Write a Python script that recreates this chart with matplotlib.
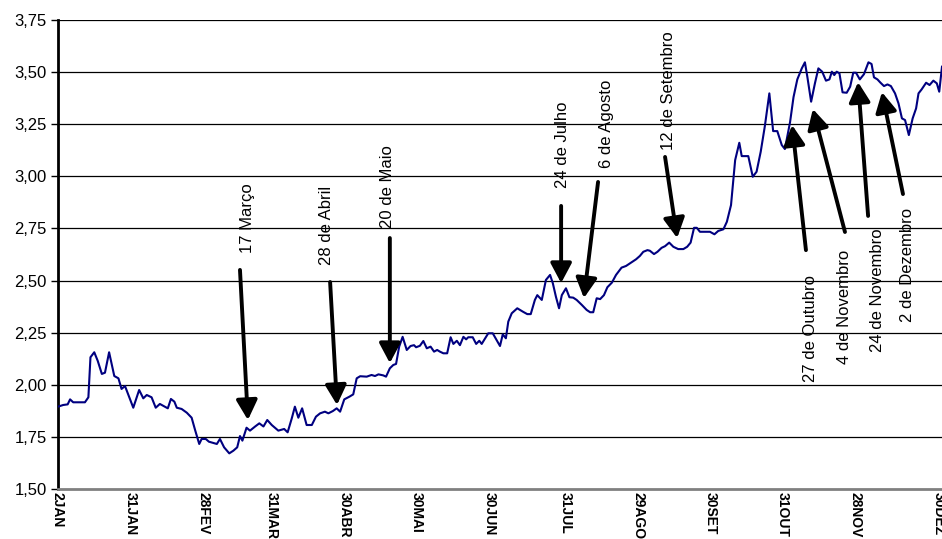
import matplotlib
matplotlib.use("Agg")
import matplotlib.pyplot as plt

plt.rcParams['font.family'] = ['Liberation Sans', 'DejaVu Sans']

# trading day index (0 = 2 JAN) and price
days = [0, 1.5, 2.8, 3.5, 4.4, 7.8, 8.8, 9.4, 10.5, 11.5, 12.7, 13.6, 14.8, 16.3, 17.5, 18.4, 19.4,
        21.8, 23.5, 24.7, 25.7, 27.1, 28.3, 29.5, 31.8, 32.7, 33.7, 34.4, 35.8, 37.3, 38.7, 39.7,
        40.9, 41.6, 42.8, 43.7, 46.0, 46.9, 48.1, 49.6, 50.8, 51.9, 52.7, 53.4, 54.6, 55.6, 57.1,
        58.3, 59.5, 60.6, 61.9, 63.8, 65.5, 66.5, 67.7, 68.6, 69.6, 70.7, 72.0, 73.5, 74.7, 75.9,
        77.3, 78.3, 79.6, 80.7, 81.7, 82.9, 84.4, 85.5, 86.5, 87.5, 89.4, 90.8, 91.8, 92.8, 94.2,
        95.0, 96.1, 97.1, 97.9, 98.8, 99.8, 101.0, 102.1, 103.1, 103.7, 104.8, 105.8, 106.8, 107.9,
        108.9, 109.8, 110.6, 111.6, 112.7, 113.7, 114.5, 115.5, 116.4, 117.4, 118.2, 118.8, 120.1,
        121.1, 122.0, 122.7, 123.7, 124.6, 125.9, 127.0, 128.0, 128.8, 129.7, 130.4, 131.4, 133.0,
        134.7, 135.9, 136.9, 138.1, 138.8, 140.1, 141.3, 142.5, 143.3, 144.2, 145.1, 145.9, 147.1,
        148.1, 149.2, 150.2, 151.7, 153.1, 154.1, 155.0, 156.0, 157.0, 158.1, 159.1, 160.4, 161.6,
        163.2, 164.5, 165.7, 167.4, 168.5, 169.5, 170.7, 171.4, 172.6, 173.6, 174.8, 175.8, 177.0,
        178.2, 179.6, 181.1, 182.2, 183.2, 184.2, 185.0, 185.9, 188.8, 190.1, 191.2, 192.7, 193.7,
        194.9, 196.1, 197.3, 198.0, 199.9, 201.2, 202.3, 203.5, 204.7, 206.0, 207.1, 208.3, 209.6,
        210.5, 212.0, 213.0, 214.1, 215.4, 216.3, 217.0, 218.1, 219.2, 220.2, 221.3, 222.4, 223.4,
        224.1, 224.8, 225.5, 226.3, 227.2, 228.4, 229.4, 230.3, 231.1, 232.2, 233.4, 234.7, 235.6,
        236.3, 237.3, 238.2, 239.2, 240.2, 241.2, 242.4, 243.4, 244.4, 245.3, 246.4, 247.5, 248.5,
        249.2, 250.1, 251.4, 252.4, 253.5, 254.5, 255.2, 256.0]
price = [1.895, 1.903, 1.906, 1.930, 1.916, 1.916, 1.94, 2.132, 2.156, 2.115, 2.052, 2.058, 2.156,
         2.042, 2.031, 1.98, 1.994, 1.89, 1.975, 1.935, 1.951, 1.94, 1.89, 1.908, 1.887, 1.932,
         1.919, 1.89, 1.884, 1.866, 1.842, 1.783, 1.716, 1.74, 1.74, 1.727, 1.716, 1.74, 1.70,
         1.671, 1.684, 1.70, 1.754, 1.732, 1.794, 1.78, 1.80, 1.815, 1.80, 1.831, 1.807, 1.78,
         1.788, 1.772, 1.839, 1.895, 1.842, 1.887, 1.807, 1.807, 1.847, 1.863, 1.871, 1.863, 1.874,
         1.887, 1.871, 1.93, 1.943, 1.954, 2.031, 2.041, 2.039, 2.047, 2.042, 2.05, 2.045, 2.039,
         2.079, 2.095, 2.10, 2.183, 2.23, 2.167, 2.186, 2.19, 2.18, 2.187, 2.21, 2.175, 2.183,
         2.159, 2.167, 2.159, 2.151, 2.151, 2.228, 2.196, 2.211, 2.19, 2.23, 2.218, 2.228, 2.228,
         2.196, 2.211, 2.196, 2.223, 2.247, 2.247, 2.215, 2.186, 2.242, 2.223, 2.303, 2.343, 2.367,
         2.35, 2.339, 2.339, 2.407, 2.43, 2.407, 2.503, 2.527, 2.487, 2.422, 2.367, 2.43, 2.463,
         2.42, 2.418, 2.407, 2.383, 2.359, 2.348, 2.348, 2.415, 2.411, 2.43, 2.468, 2.49, 2.527,
         2.562, 2.57, 2.583, 2.602, 2.618, 2.638, 2.646, 2.643, 2.627, 2.638, 2.657, 2.665, 2.682,
         2.662, 2.651, 2.651, 2.662, 2.682, 2.753, 2.753, 2.734, 2.734, 2.722, 2.738, 2.746, 2.782,
         2.862, 3.078, 3.161, 3.097, 3.097, 2.998, 3.022, 3.118, 3.241, 3.398, 3.217, 3.217, 3.15,
         3.131, 3.26, 3.38, 3.465, 3.518, 3.547, 3.478, 3.358, 3.446, 3.518, 3.502, 3.459, 3.465,
         3.502, 3.486, 3.502, 3.494, 3.403, 3.401, 3.43, 3.497, 3.497, 3.465, 3.49, 3.547, 3.539,
         3.475, 3.465, 3.449, 3.433, 3.441, 3.433, 3.398, 3.35, 3.278, 3.27, 3.198, 3.278, 3.326,
         3.398, 3.417, 3.449, 3.438, 3.459, 3.446, 3.406, 3.526]

tick_days = [0, 21, 42, 62, 83, 104, 125, 147, 168, 189, 210, 231, 255]
tick_labels = ["2JAN", "31JAN", "28FEV", "31MAR", "30ABR", "30MAI", "30JUN", "31JUL",
               "29AGO", "30SET", "31OUT", "28NOV", "30DEZ"]
y_ticks = [1.50, 1.75, 2.00, 2.25, 2.50, 2.75, 3.00, 3.25, 3.50, 3.75]
y_labels = ["1,50", "1,75", "2,00", "2,25", "2,50", "2,75", "3,00", "3,25", "3,50", "3,75"]

# events: label, text anchor (day, price), arrow tail, arrow tip
events = [
    ("17 Março", (55.0, 2.632), (52.7, 2.551), (55.0, 1.831), "bottom"),
    ("28 de Abril", (77.9, 2.575), (78.8, 2.493), (80.8, 1.903), "bottom"),
    ("20 de Maio", (95.3, 2.752), (96.1, 2.704), (96.1, 2.104), "bottom"),
    ("24 de Julho", (146.2, 2.944), (145.7, 2.858), (145.7, 2.488), "bottom"),
    ("6 de Agosto", (158.7, 3.04), (156.4, 2.973), (152.3, 2.416), "bottom"),
    ("12 de Setembro", (176.7, 3.126), (175.8, 3.093), (179.3, 2.704), "bottom"),
    ("27 de Outubro", (217.8, 2.527), (216.6, 2.646), (212.6, 3.246), "top"),
    ("4 de Novembro", (227.9, 2.646), (227.9, 2.733), (218.6, 3.323), "top"),
    ("24 de Novembro", (237.2, 2.752), (234.6, 2.81), (231.7, 3.452), "top"),
    ("2 de Dezembro", (245.9, 2.848), (244.7, 2.915), (238.6, 3.404), "top"),
]

fig = plt.figure(figsize=(9.42, 5.39), dpi=100)
ax = fig.add_axes([58 / 942, 50 / 539, 884 / 942, 469 / 539])

for y in y_ticks[1:]:
    ax.axhline(y, color="black", lw=0.9, zorder=1)

ax.plot(days, price, color="#000080", lw=1.5, zorder=3)

for label, txt, tail, tip, va in events:
    ax.text(txt[0], txt[1], label, rotation=90, ha="center", va=va, fontsize=12, zorder=4)
    ax.annotate("", xy=tip, xytext=tail,
                arrowprops=dict(arrowstyle="-|>,head_length=0.6,head_width=0.32",
                                lw=2.8, color="black", mutation_scale=20,
                                shrinkA=0, shrinkB=0),
                zorder=5)

ax.set_xlim(0, 256)
ax.set_ylim(1.5, 3.75)
ax.set_yticks(y_ticks)
ax.set_yticklabels(y_labels, fontsize=12)
ax.set_xticks(tick_days)
ax.set_xticklabels(tick_labels, rotation=270, fontsize=10, fontweight="bold", va="top")
ax.tick_params(axis="x", length=0, pad=2)
ax.tick_params(axis="y", length=5, width=1, direction="out", pad=3)

ax.spines["right"].set_visible(False)
ax.spines["top"].set_visible(False)
ax.spines["left"].set_linewidth(2)
ax.spines["bottom"].set_linewidth(2)
ax.spines["bottom"].set_color("#808080")

fig.savefig("out.png", dpi=100)
